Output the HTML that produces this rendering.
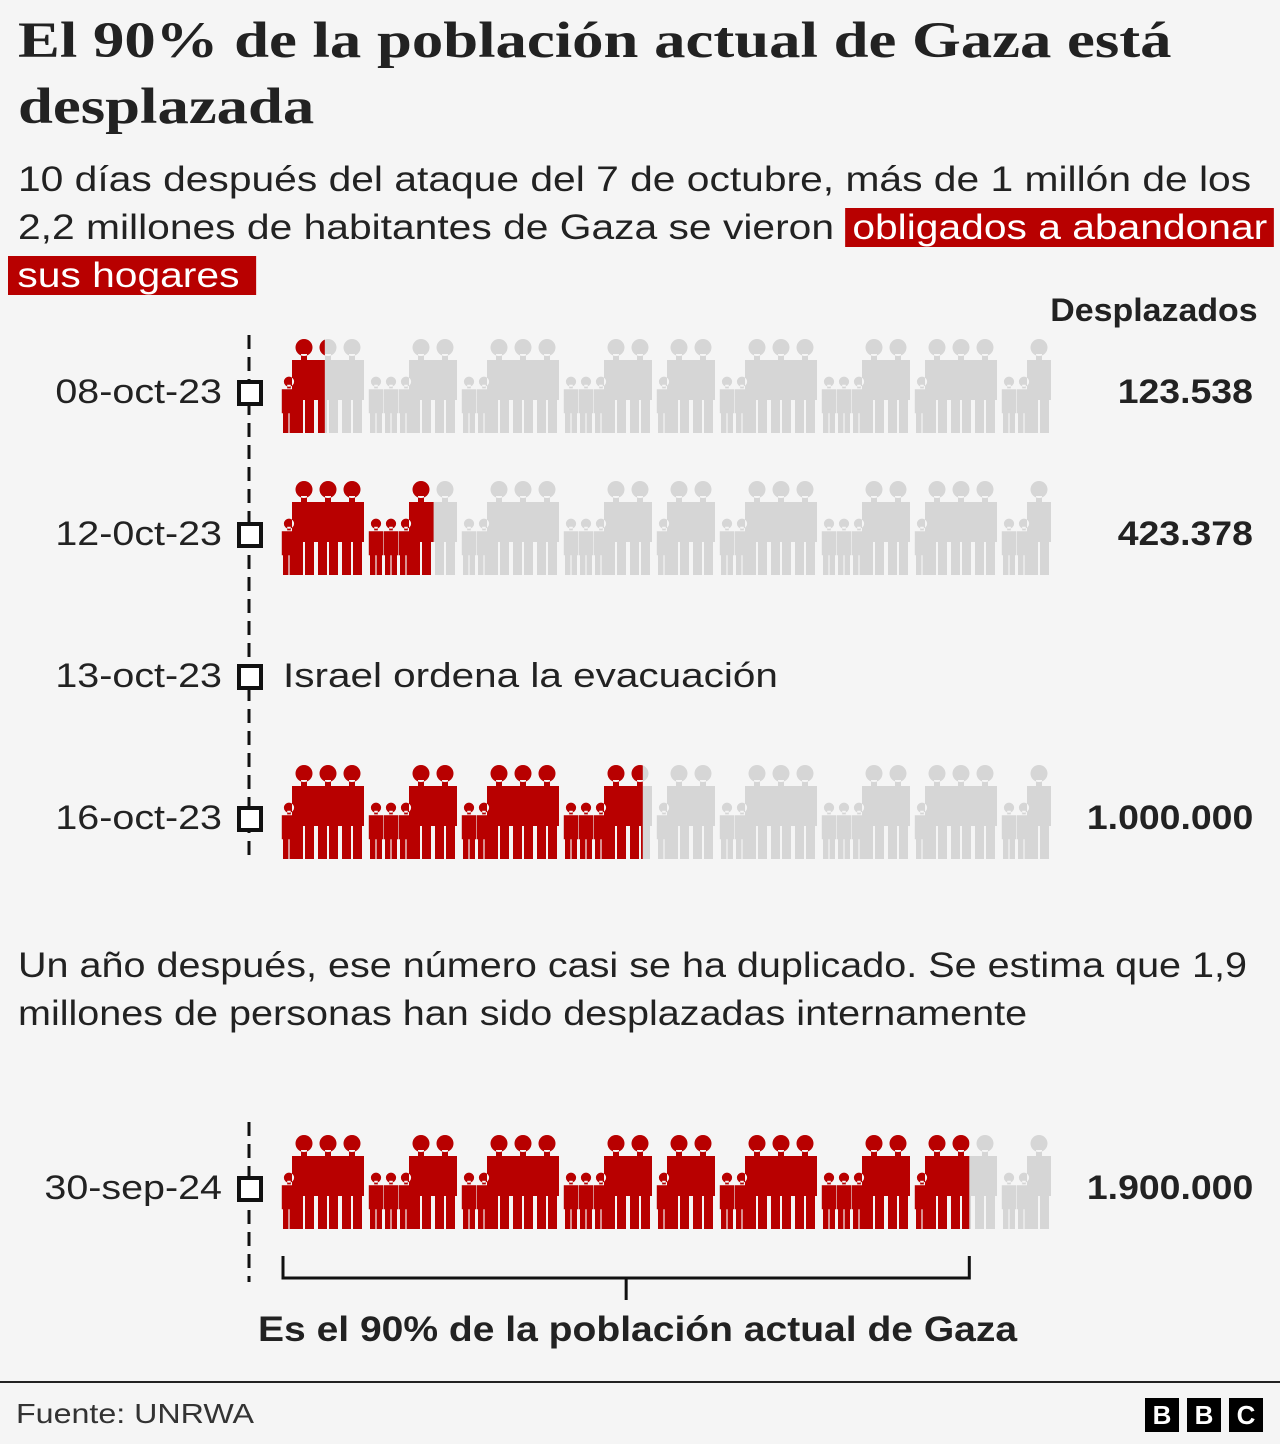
<!DOCTYPE html>
<html><head><meta charset="utf-8">
<style>
body{margin:0;background:#f5f5f5;}
#wrap{position:relative;width:1280px;height:1444px;background:#f5f5f5;font-family:"Liberation Sans",sans-serif;color:#222;overflow:hidden}
.t{position:absolute;white-space:nowrap}
h1{position:absolute;left:18px;top:8px;margin:0;font-family:"Liberation Serif",serif;font-weight:bold;font-size:51px;line-height:66px;color:#222;white-space:nowrap;transform:scaleX(1.23);transform-origin:left top}
.sub{position:absolute;left:18px;font-size:35px;line-height:48px;white-space:nowrap;transform:scaleX(1.165);transform-origin:left top}
.hl{background:#b80000;color:#fff;padding:0 6px}
.date{position:absolute;width:222px;text-align:right;left:0;font-size:34px;transform:scaleX(1.16);transform-origin:right top}
.val{position:absolute;right:27px;font-size:34px;font-weight:bold;transform:scaleX(1.1);transform-origin:right top}
.bbc{position:absolute;top:1398px;width:34px;height:34px;background:#000;color:#fff;font-weight:bold;font-size:26px;text-align:center;line-height:34px}
</style></head><body>
<div id="wrap">
<h1>El 90% de la población actual de Gaza está<br>desplazada</h1>
<div class="sub" style="top:156px">10 días después del ataque del 7 de octubre, más de 1 millón de los<br>2,2 millones de habitantes de Gaza se vieron <span class="hl">obligados a abandonar</span></div>
<div class="sub" style="top:252px;left:8px"><span class="hl" style="padding:0 14px 0 8px">sus hogares</span></div>
<div class="t" style="right:22px;top:292px;font-size:32px;font-weight:bold;transform:scaleX(1.06);transform-origin:right top">Desplazados</div>
<svg id="chart" width="1280" height="1444" style="position:absolute;left:0;top:0"></svg>
<div class="date" style="top:373px">08-oct-23</div>
<div class="date" style="top:515px">12-0ct-23</div>
<div class="date" style="top:657px">13-oct-23</div>
<div class="t" style="left:283px;top:657px;font-size:34px;transform:scaleX(1.19);transform-origin:left top">Israel ordena la evacuación</div>
<div class="date" style="top:799px">16-oct-23</div>
<div class="date" style="top:1169px">30-sep-24</div>
<div class="val" style="top:373px">123.538</div>
<div class="val" style="top:515px">423.378</div>
<div class="val" style="top:799px">1.000.000</div>
<div class="val" style="top:1169px">1.900.000</div>
<div class="sub" style="top:942px;transform:scaleX(1.13)">Un año después, ese número casi se ha duplicado. Se estima que 1,9<br>millones de personas han sido desplazadas internamente</div>
<div class="t" style="left:258px;top:1310px;font-size:35px;font-weight:bold;transform:scaleX(1.115);transform-origin:left top">Es el 90% de la población actual de Gaza</div>
<div style="position:absolute;left:0;top:1381px;width:1280px;height:2px;background:#222"></div>
<div class="t" style="left:16px;top:1398px;font-size:28px;color:#333;transform:scaleX(1.15);transform-origin:left top">Fuente: UNRWA</div>
<div class="bbc" style="left:1145px">B</div>
<div class="bbc" style="left:1187px">B</div>
<div class="bbc" style="left:1229px">C</div>
</div>
<script>
const dates = ["08-oct-23","12-0ct-23","16-oct-23","30-sep-24"];
const displaced = [123538, 423378, 1000000, 1900000];
const population = 2150000;
const rowCenters = [393, 535, 819, 1189];

const NS="http://www.w3.org/2000/svg";
const svg=document.getElementById('chart');
function el(t,a){const e=document.createElementNS(NS,t);for(const k in a)e.setAttribute(k,a[k]);return e;}
const X0=280, X1=1060;
function xScale(v){return X0+(X1-X0)*v/population;}

const tl1=el('line',{x1:249,y1:335,x2:249,y2:858,stroke:'#111','stroke-width':3,'stroke-dasharray':'14 8'});


svg.appendChild(tl1);
const tl2=el('line',{x1:249,y1:1122,x2:249,y2:1282,stroke:'#111','stroke-width':3,'stroke-dasharray':'14 8'});


svg.appendChild(tl2);
[393,535,677,819,1189].forEach(function(y){
  const r=el('rect',{x:239,y:y-11,width:22,height:22,fill:'#fff',stroke:'#111','stroke-width':4});
  
  
  svg.appendChild(r);
});

const seq="kAAAkkkAAkkAAAkkkAAkAAkkAAAkkkAAkAAAkkAAkAAkkAAAkkAkAAkkA";
function crowdPath(cy){
  let d='',x=X0+9,i=0;const base=cy+40;
  while(x<X1){
    const c=seq[i%seq.length];const s=c==='A'?1:0.6;
    const top=base-94*s;
    const hr=8.5*s;
    d+=`M${x-hr},${top+hr}a${hr},${hr} 0 1,0 ${2*hr},0a${hr},${hr} 0 1,0 ${-2*hr},0`;
    d+=`M${x-3*s},${top+2*hr-2}h${6*s}v${6*s}h${-6*s}z`;
    const w=12*s;
    d+=`M${x-w},${top+2*hr+4*s}h${2*w}v${40*s}h${-2*w}z`;
    d+=`M${x-w+2*s},${top+58*s}h${w-3*s}v${36*s}h${-(w-3*s)}z`;
    d+=`M${x+1*s},${top+58*s}h${w-3*s}v${36*s}h${-(w-3*s)}z`;
    x+=c==='A'?24:15;i++;
  }
  return d;
}
const defs=el('defs',{});svg.appendChild(defs);
displaced.forEach(function(v,i){
  const cy=rowCenters[i];const d=crowdPath(cy);const xs=xScale(v);
  const cp=el('clipPath',{id:'cp'+i});cp.appendChild(el('rect',{x:0,y:cy-70,width:xs,height:130}));defs.appendChild(cp);
  const grey=el('path',{d:d,fill:'#d6d6d6'});
  
  
  svg.appendChild(grey);
  const red=el('path',{d:d,fill:'#b80000','clip-path':'url(#cp'+i+')'});
  
  
  svg.appendChild(red);
});

const bx=xScale(displaced[3]);
const br=el('path',{d:`M283,1256V1278H${bx}V1256M${(283+bx)/2},1278V1300`,fill:'none',stroke:'#111','stroke-width':3});


svg.appendChild(br);
</script>
</body></html>
